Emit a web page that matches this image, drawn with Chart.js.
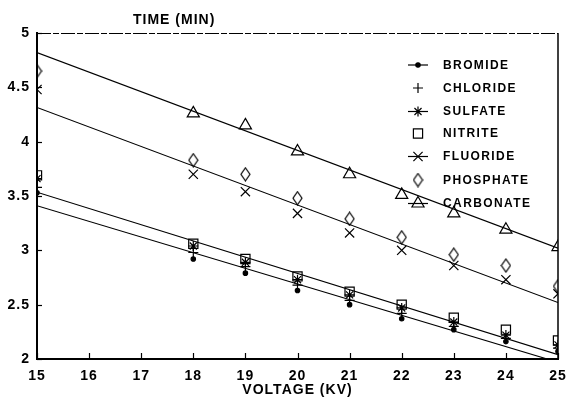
<!DOCTYPE html>
<html><head><meta charset="utf-8">
<script src="https://cdn.jsdelivr.net/npm/chart.js@4.4.1/dist/chart.umd.min.js"></script>
<style>html,body{margin:0;padding:0;background:#fff;} #wrap{width:568px;height:399px;position:relative;}</style>
</head><body><div id="wrap"><canvas id="c" width="568" height="399"></canvas></div>
<script>
const voltages = [15, 18, 19, 20, 21, 22, 23, 24, 25];
const bromide   = [3.53, 2.92, 2.79, 2.63, 2.50, 2.37, 2.27, 2.16, 2.07];
const chloride  = [3.58, 2.98, 2.85, 2.68, 2.54, 2.42, 2.30, 2.19, 2.10];
const sulfate   = [3.66, 3.04, 2.89, 2.73, 2.59, 2.47, 2.34, 2.22, 2.13];
const nitrite   = [3.69, 3.06, 2.92, 2.76, 2.62, 2.50, 2.38, 2.27, 2.17];
const fluoride  = [4.48, 3.70, 3.54, 3.34, 3.16, 3.00, 2.86, 2.73, 2.60];
const phosphate = [4.65, 3.83, 3.70, 3.48, 3.29, 3.12, 2.96, 2.86, 2.67];
const carbonate = [null, 4.26, 4.15, 3.91, 3.70, 3.51, 3.34, 3.19, 3.03];
const fitX = [15, 25];
const bromideFit   = [3.41, 1.97];
const sulfateFit   = [3.535, 2.04];
const fluorideFit  = [4.315, 2.52];
const carbonateFit = [4.82, 3.02];
const xTicks = [15, 16, 17, 18, 19, 20, 21, 22, 23, 24, 25];
const yTicks = [2, 2.5, 3, 3.5, 4, 4.5, 5];
const yTickLabels = ['2', '2.5', '3', '3.5', '4', '4.5', '5'];
const legendNames = ['BROMIDE', 'CHLORIDE', 'SULFATE', 'NITRITE', 'FLUORIDE', 'PHOSPHATE', 'CARBONATE'];
const yTitle = 'TIME (MIN)';
const xTitle = 'VOLTAGE (KV)';

// custom diamond marker (taller than wide)
function makeDiamond(w, h, lw) {
  const c = document.createElement('canvas');
  c.width = w + 2; c.height = h + 2;
  const g = c.getContext('2d');
  g.strokeStyle = '#000'; g.lineWidth = lw;
  g.beginPath();
  g.moveTo(c.width / 2, 1); g.lineTo(c.width - 1, c.height / 2);
  g.lineTo(c.width / 2, c.height - 1); g.lineTo(1, c.height / 2); g.closePath();
  g.stroke();
  return c;
}
const diamond = makeDiamond(9, 13, 1.2);

function pts(arr) { return voltages.map((x, i) => ({x: x, y: arr[i]})).filter(p => p.y !== null); }
function fit(arr) { return fitX.map((x, i) => ({x: x, y: arr[i]})); }

const markerDefs = [
  {pointStyle: 'circle', radius: 2.2, fill: true, line: true},
  {pointStyle: 'cross', radius: 5, fill: false, line: false},
  {pointStyle: 'star', radius: 5, fill: false, line: true},
  {pointStyle: 'rect', radius: 6.5, fill: false, line: false},
  {pointStyle: 'crossRot', radius: 6.5, fill: false, line: true},
  {pointStyle: diamond, radius: 6, fill: false, line: false},
  {pointStyle: 'triangle', radius: 7, fill: false, line: true}
];
const seriesData = [bromide, chloride, sulfate, nitrite, fluoride, phosphate, carbonate];

const datasets = [];
seriesData.forEach((arr, i) => {
  const m = markerDefs[i];
  datasets.push({
    label: legendNames[i], data: pts(arr), showLine: false,
    pointStyle: m.pointStyle, pointRadius: m.radius,
    borderColor: '#000', backgroundColor: m.fill ? '#000' : 'rgba(0,0,0,0)',
    pointBorderWidth: 1.2
  });
});
[bromideFit, sulfateFit, fluorideFit, carbonateFit].forEach(arr => {
  datasets.push({
    label: '', data: fit(arr), showLine: true, pointRadius: 0,
    borderColor: '#000', borderWidth: 1.1, fill: false
  });
});

const FONT = '"Liberation Sans", Arial, sans-serif';

const decor = {
  id: 'decor',
  beforeDraw(chart) {
    const ctx = chart.ctx;
    ctx.save(); ctx.fillStyle = '#fff'; ctx.fillRect(0, 0, chart.width, chart.height); ctx.restore();
    try { ctx.letterSpacing = '1px'; } catch (e) {}
  },
  afterDatasetsDraw(chart) {
    const ctx = chart.ctx;
    const a = chart.chartArea;
    const xs = chart.scales.x, ys = chart.scales.y;
    ctx.save();
    ctx.strokeStyle = '#000';
    // top border (dashed, thin)
    ctx.lineWidth = 1;
    ctx.setLineDash([14, 2, 6, 2]);
    ctx.beginPath(); ctx.moveTo(a.left, a.top + 0.5); ctx.lineTo(a.right, a.top + 0.5); ctx.stroke();
    ctx.setLineDash([]);
    // right border
    ctx.lineWidth = 1.5;
    ctx.beginPath(); ctx.moveTo(a.right, a.top); ctx.lineTo(a.right, a.bottom); ctx.stroke();
    // inward ticks
    ctx.lineWidth = 1.2;
    xTicks.forEach(v => {
      const px = Math.round(xs.getPixelForValue(v)) + 0.5;
      ctx.beginPath(); ctx.moveTo(px, a.bottom); ctx.lineTo(px, a.bottom - 6); ctx.stroke();
    });
    yTicks.forEach(v => {
      const py = Math.round(ys.getPixelForValue(v)) + 0.5;
      ctx.beginPath(); ctx.moveTo(a.left, py); ctx.lineTo(a.left + 5, py); ctx.stroke();
    });
    // y title
    ctx.fillStyle = '#000';
    ctx.font = 'bold 14px ' + FONT;
    ctx.textAlign = 'left'; ctx.textBaseline = 'middle';
    ctx.fillText(yTitle, 133, 20);
    // legend
    const rowsY = [65, 88, 111.5, 133.5, 156.5, 180, 203.5];
    const mx = 418;
    ctx.font = 'bold 12px ' + FONT;
    try { ctx.letterSpacing = '1.4px'; } catch (e) {}
    legendNames.forEach((name, i) => {
      const m = markerDefs[i];
      const y = rowsY[i];
      ctx.strokeStyle = '#000'; ctx.fillStyle = '#000'; ctx.lineWidth = 1.2;
      if (m.line) {
        ctx.beginPath(); ctx.moveTo(mx - 10, y); ctx.lineTo(mx + 10, y); ctx.stroke();
      }
      ctx.fillStyle = m.fill ? '#000' : 'rgba(0,0,0,0)';
      const opts = {pointStyle: m.pointStyle, radius: m.radius, rotation: 0, borderWidth: 1.2};
      if (Chart.helpers && Chart.helpers.drawPoint) {
        Chart.helpers.drawPoint(ctx, opts, mx, y);
      }
      ctx.fillStyle = '#000';
      ctx.textAlign = 'left'; ctx.textBaseline = 'middle';
      ctx.fillText(name, 443, y + 0.5);
    });
    ctx.restore();
  }
};

new Chart(document.getElementById('c'), {
  type: 'scatter',
  data: {datasets: datasets},
  options: {
    responsive: false, animation: false,
    layout: {padding: {top: 33, right: 10, bottom: 0, left: 0}},
    plugins: {legend: {display: false}, tooltip: {enabled: false}},
    scales: {
      x: {
        type: 'linear', min: 15, max: 25,
        afterBuildTicks: s => { s.ticks = xTicks.map(v => ({value: v})); },
        afterFit: s => { s.height = 40; s.paddingLeft = 0; s.paddingRight = 0; },
        grid: {display: false, drawTicks: false},
        border: {display: true, color: '#000', width: 2},
        ticks: {color: '#000', padding: 9, font: {family: FONT, size: 14, weight: 'bold'}, callback: v => String(v)},
        title: {display: true, text: xTitle, color: '#000', font: {family: FONT, size: 14, weight: 'bold'}, padding: {top: 3, bottom: 0}}
      },
      y: {
        type: 'linear', min: 2, max: 5,
        afterBuildTicks: s => { s.ticks = yTicks.map(v => ({value: v})); },
        afterFit: s => { s.width = 37; s.paddingTop = 0; s.paddingBottom = 0; },
        grid: {display: false, drawTicks: false},
        border: {display: true, color: '#000', width: 2},
        ticks: {color: '#000', padding: 7, font: {family: FONT, size: 14, weight: 'bold'},
          callback: v => { const i = yTicks.indexOf(v); return i >= 0 ? yTickLabels[i] : ''; }}
      }
    }
  },
  plugins: [decor]
});
</script>
</body></html>
